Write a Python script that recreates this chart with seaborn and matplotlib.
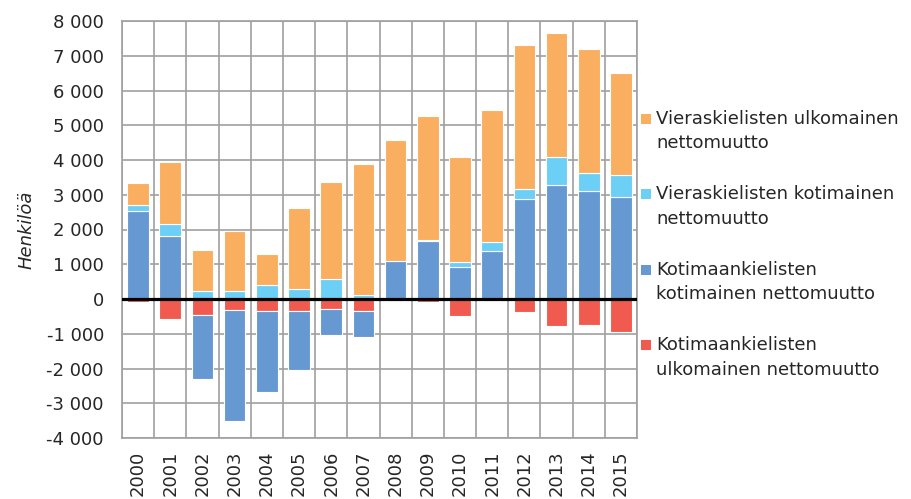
import matplotlib
matplotlib.use("Agg")
import matplotlib.pyplot as plt
import matplotlib.ticker as mticker
from matplotlib.patches import Rectangle
from matplotlib.container import BarContainer
from matplotlib.legend_handler import HandlerPatch
import seaborn as sns
import numpy as np

# ---- data (henkilöä) ----
years = [str(y) for y in range(2000, 2016)]

koti_ulko = [-90, -575, -460, -305, -335, -335, -290, -335, 0, -80, -490, 0, -385, -775, -760, -950]
koti_koti = [2520, 1800, -1835, -3195, -2340, -1700, -740, -770, 1080, 1680, 920, 1390, 2865, 3270, 3095, 2925]
vieras_koti = [175, 360, 230, 230, 410, 290, 585, 115, -50, 25, 145, 250, 300, 815, 545, 645]
vieras_ulko = [650, 1785, 1185, 1735, 875, 2330, 2780, 3770, 3495, 3550, 3030, 3800, 4145, 3560, 3550, 2935]

labels = [
    "Kotimaankielisten\nulkomainen nettomuutto",
    "Kotimaankielisten\nkotimainen nettomuutto",
    "Vieraskielisten kotimainen\nnettomuutto",
    "Vieraskielisten ulkomainen\nnettomuutto",
]
colors = ["#F15B4F", "#6699D2", "#6CCFF6", "#FAAE60"]

sns.set_style("white")
plt.rcParams["font.family"] = ["DejaVu Sans"]
plt.rcParams["font.size"] = 13

fig = plt.figure(figsize=(9.11, 4.99), dpi=100)
ax = fig.add_axes([122 / 911, 1 - 438 / 499, 515 / 911, 417 / 499])

# Excel-tyylinen pinottu pylväs: positiiviset ylös, negatiiviset alas sarjajärjestyksessä
pos_base = np.zeros(len(years))
neg_base = np.zeros(len(years))
for vals, lab, col in zip([koti_ulko, koti_koti, vieras_koti, vieras_ulko], labels, colors):
    v = np.array(vals, dtype=float)
    bottom = np.where(v >= 0, pos_base, neg_base)
    sns.barplot(x=years, y=v, bottom=bottom, color=col, saturation=1,
                width=0.67, edgecolor="white", linewidth=0.8,
                errorbar=None, label=lab, ax=ax, zorder=2)
    pos_base += np.clip(v, 0, None)
    neg_base += np.clip(v, None, 0)

ax.axhline(0, color="black", lw=2.3, zorder=5)

ax.set_ylim(-4000, 8000)
ax.set_xlim(-0.5, len(years) - 0.5)
ax.set_yticks(np.arange(-4000, 8001, 1000))
ax.yaxis.set_major_formatter(mticker.FuncFormatter(lambda v, p: f"{int(v):,}".replace(",", " ")))
ax.set_xticks(np.arange(-0.5, len(years), 1), minor=True)

gcol = "#A0A0A0"
ax.set_axisbelow(True)
ax.grid(axis="y", which="major", color=gcol, lw=1.2)
ax.grid(axis="x", which="minor", color=gcol, lw=1.2)
ax.grid(axis="x", which="major", visible=False)
for s in ax.spines.values():
    s.set_color(gcol)
    s.set_linewidth(1.2)

ax.tick_params(axis="y", length=0, pad=13, labelsize=13)
ax.tick_params(axis="x", which="both", length=0, pad=9, labelsize=13, labelrotation=90)
ax.set_xlabel("")
ax.set_ylabel("Henkilöä", style="italic", fontsize=13)
ax.yaxis.set_label_coords(-0.168, 0.5)


# legendan neliö ensimmäisen rivin kohdalle (kuten Excelissä)
class TopSquare(HandlerPatch):
    def create_artists(self, legend, orig_handle, xdescent, ydescent,
                       width, height, fontsize, trans):
        s = 0.55 * fontsize
        fc = orig_handle.patches[0].get_facecolor()
        p = Rectangle((-xdescent, -ydescent + 0.8 * fontsize), s, s,
                      facecolor=fc, edgecolor="none", transform=trans)
        return [p]


handles, labs = ax.get_legend_handles_labels()
leg = ax.legend(handles[::-1], labs[::-1], loc="upper left",
                bbox_to_anchor=(641 / 911, 1 - 110 / 499), bbox_transform=fig.transFigure,
                frameon=False, fontsize=13, borderpad=0, borderaxespad=0,
                handlelength=0.55, handleheight=0.7, handletextpad=0.3,
                labelspacing=1.83,
                handler_map={BarContainer: TopSquare()})
for t in leg.get_texts():
    t.set_linespacing(1.46)

fig.savefig("out.png", dpi=100)
